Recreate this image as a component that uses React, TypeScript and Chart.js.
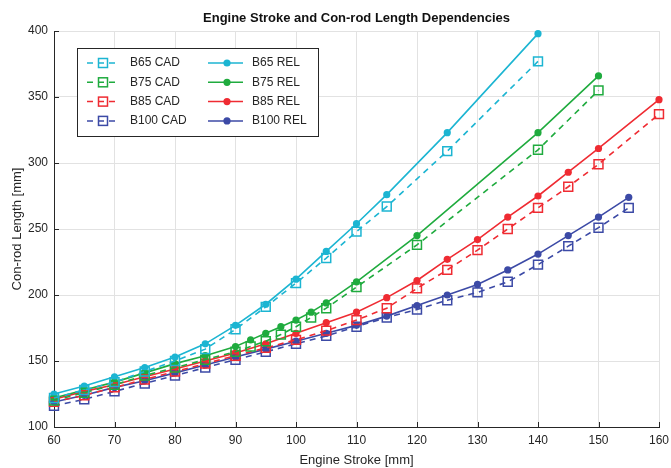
import { useEffect, useRef } from 'react';
import { Chart, registerables } from 'chart.js';
Chart.register(...registerables);

// ---- data ----
const xB65 = [60, 65, 70, 75, 80, 85, 90, 95, 100, 105, 110, 115, 125, 140];
const b65Rel = [125, 131, 138, 145, 153, 163, 177, 193, 212, 233, 254, 276, 323, 398];
const b65Cad = [122, 128, 134, 142, 150, 159, 174, 191, 209, 228, 248, 267, 309, 377];

const xB75 = [60, 65, 70, 75, 80, 85, 90, 92.5, 95, 97.5, 100, 102.5, 105, 110, 120, 140, 150];
const b75Rel = [122, 128, 134, 141, 148, 154, 161, 166, 171, 176, 181, 187, 194, 210, 245, 323, 366];
const b75Cad = [120, 126, 132, 139, 145, 151, 157, 161, 165, 170, 176, 183, 190, 206, 238, 310, 355];

const xB85 = [60, 65, 70, 75, 80, 85, 90, 95, 100, 105, 110, 115, 120, 125, 130, 135, 140, 145, 150, 160];
const b85Rel = [121, 127, 132, 138, 144, 150, 156, 163, 171, 179, 187, 198, 211, 227, 242, 259, 275, 293, 311, 348];
const b85Cad = [119, 124, 130, 136, 142, 148, 154, 160, 166, 173, 181, 190, 205, 219, 234, 250, 266, 282, 299, 337];

const xB100 = [60, 65, 70, 75, 80, 85, 90, 95, 100, 105, 110, 115, 120, 125, 130, 135, 140, 145, 150, 155];
const b100Rel = [119, 124, 130, 135, 141, 147, 153, 159, 165, 171, 177, 184, 192, 200, 208, 219, 231, 245, 259, 274];
const b100Cad = [116, 121, 127, 133, 139, 145, 151, 157, 163, 169, 176, 183, 189, 196, 202, 210, 223, 237, 251, 266];

const seriesNames = ['B65', 'B75', 'B85', 'B100'];
const xTicks = [60, 70, 80, 90, 100, 110, 120, 130, 140, 150, 160];
const yTicks = [100, 150, 200, 250, 300, 350, 400];

const TITLE = 'Engine Stroke and Con-rod Length Dependencies';
const X_TITLE = 'Engine Stroke [mm]';
const Y_TITLE = 'Con-rod Length [mm]';

// ---- styles ----
const COLORS = ['#1cb5d2', '#1fab3e', '#ef2b32', '#3c4aa6'];
const FONT = '"Liberation Sans", Arial, Helvetica, sans-serif';
const TEXT = '#262626';
const DASH = [6, 5];

const pts = (xs: number[], ys: number[]) => xs.map((x, i) => ({ x, y: ys[i] }));

const groups = [
  { x: xB65, rel: b65Rel, cad: b65Cad },
  { x: xB75, rel: b75Rel, cad: b75Cad },
  { x: xB85, rel: b85Rel, cad: b85Cad },
  { x: xB100, rel: b100Rel, cad: b100Cad },
];

const titlePlugin = {
  id: 'centerTitle',
  afterDraw(chart: any) {
    const { ctx, chartArea } = chart;
    ctx.save();
    ctx.font = `bold 13px ${FONT}`;
    ctx.fillStyle = '#111';
    ctx.textAlign = 'center';
    ctx.textBaseline = 'middle';
    ctx.fillText(TITLE, (chartArea.left + chartArea.right) / 2, chartArea.top - 13);
    ctx.restore();
  },
};

const inwardTicks = {
  id: 'inwardTicks',
  beforeDatasetsDraw(chart: any) {
    const { ctx, chartArea, scales } = chart;
    ctx.save();
    ctx.strokeStyle = TEXT;
    ctx.lineWidth = 1;
    ctx.beginPath();
    scales.x.ticks.forEach((t: any) => {
      const px = Math.round(scales.x.getPixelForValue(t.value)) + 0.5;
      ctx.moveTo(px, chartArea.bottom);
      ctx.lineTo(px, chartArea.bottom - 5);
    });
    scales.y.ticks.forEach((t: any) => {
      const py = Math.round(scales.y.getPixelForValue(t.value)) + 0.5;
      ctx.moveTo(chartArea.left, py);
      ctx.lineTo(chartArea.left + 5, py);
    });
    ctx.stroke();
    ctx.restore();
  },
};

const boxLegend = {
  id: 'boxLegend',
  afterDraw(chart: any) {
    const { ctx, chartArea } = chart;
    const bx = chartArea.left + 23;
    const by = chartArea.top + 17;
    const bw = 241;
    const bh = 88;
    ctx.save();
    ctx.fillStyle = '#fff';
    ctx.fillRect(bx, by, bw, bh);
    ctx.strokeStyle = TEXT;
    ctx.lineWidth = 1;
    ctx.strokeRect(bx + 0.5, by + 0.5, bw, bh);
    ctx.font = `12px ${FONT}`;
    ctx.textBaseline = 'middle';
    ctx.textAlign = 'left';
    seriesNames.forEach((name, i) => {
      const cy = by + 15 + i * 19.3;
      const col = COLORS[i];
      // CAD entry
      ctx.strokeStyle = col;
      ctx.lineWidth = 1.5;
      ctx.setLineDash(DASH);
      ctx.beginPath();
      ctx.moveTo(bx + 10, cy);
      ctx.lineTo(bx + 42, cy);
      ctx.stroke();
      ctx.setLineDash([]);
      ctx.strokeRect(bx + 26 - 4.5, cy - 4.5, 9, 9);
      ctx.fillStyle = TEXT;
      ctx.fillText(`${name} CAD`, bx + 53, cy);
      // REL entry
      ctx.strokeStyle = col;
      ctx.beginPath();
      ctx.moveTo(bx + 131, cy);
      ctx.lineTo(bx + 166, cy);
      ctx.stroke();
      ctx.fillStyle = col;
      ctx.beginPath();
      ctx.arc(bx + 150, cy, 3.6, 0, Math.PI * 2);
      ctx.fill();
      ctx.fillStyle = TEXT;
      ctx.fillText(`${name} REL`, bx + 175, cy);
    });
    ctx.restore();
  },
};

export default function App() {
  const ref = useRef<HTMLCanvasElement | null>(null);

  useEffect(() => {
    if (!ref.current) return;
    const datasets: any[] = [];
    groups.forEach((g, i) => {
      datasets.push({
        label: `${seriesNames[i]} CAD`,
        data: pts(g.x, g.cad),
        borderColor: COLORS[i],
        backgroundColor: 'rgba(0,0,0,0)',
        borderWidth: 1.6,
        borderDash: DASH,
        pointStyle: 'rect',
        pointRadius: 6.3,
        pointBorderWidth: 1.5,
        pointBorderColor: COLORS[i],
        pointBackgroundColor: 'rgba(0,0,0,0)',
        tension: 0,
        clip: false,
      });
    });
    groups.forEach((g, i) => {
      datasets.push({
        label: `${seriesNames[i]} REL`,
        data: pts(g.x, g.rel),
        borderColor: COLORS[i],
        backgroundColor: COLORS[i],
        borderWidth: 1.6,
        pointStyle: 'circle',
        pointRadius: 3.6,
        pointBorderWidth: 0,
        pointBackgroundColor: COLORS[i],
        tension: 0,
        clip: false,
      });
    });

    const chart = new Chart(ref.current, {
      type: 'line',
      data: { datasets },
      plugins: [inwardTicks, titlePlugin, boxLegend],
      options: {
        animation: false,
        responsive: true,
        maintainAspectRatio: false,
        events: [],
        layout: { padding: { top: 31, right: 12, left: 0, bottom: 0 } },
        plugins: { legend: { display: false }, title: { display: false }, tooltip: { enabled: false } },
        scales: {
          x: {
            type: 'linear',
            min: 60,
            max: 160,
            afterBuildTicks: (s: any) => { s.ticks = xTicks.map((v) => ({ value: v })); },
            afterFit: (s: any) => { s.height = 41; s.paddingLeft = 0; s.paddingRight = 0; },
            grid: { color: '#e2e2e2', lineWidth: 1, drawTicks: false },
            border: { color: TEXT, width: 1 },
            ticks: { color: TEXT, padding: 6, font: { family: FONT, size: 12 }, maxRotation: 0 },
            title: { display: true, text: X_TITLE, color: TEXT, font: { family: FONT, size: 13 }, padding: { top: 0, bottom: 0 } },
          },
          y: {
            type: 'linear',
            min: 100,
            max: 400,
            afterBuildTicks: (s: any) => { s.ticks = yTicks.map((v) => ({ value: v })); },
            afterFit: (s: any) => { s.width = 54; s.paddingTop = 0; s.paddingBottom = 0; },
            grid: { color: '#e2e2e2', lineWidth: 1, drawTicks: false },
            border: { color: TEXT, width: 1 },
            ticks: { color: TEXT, padding: 6, font: { family: FONT, size: 12 } },
            title: { display: true, text: Y_TITLE, color: TEXT, font: { family: FONT, size: 13 }, padding: { top: 10, bottom: 0 } },
          },
        },
      },
    });
    return () => chart.destroy();
  }, []);

  return (
    <div style={{ position: 'absolute', left: 0, top: 0, width: 671, height: 468, background: '#fff' }}>
      <canvas ref={ref} />
    </div>
  );
}
